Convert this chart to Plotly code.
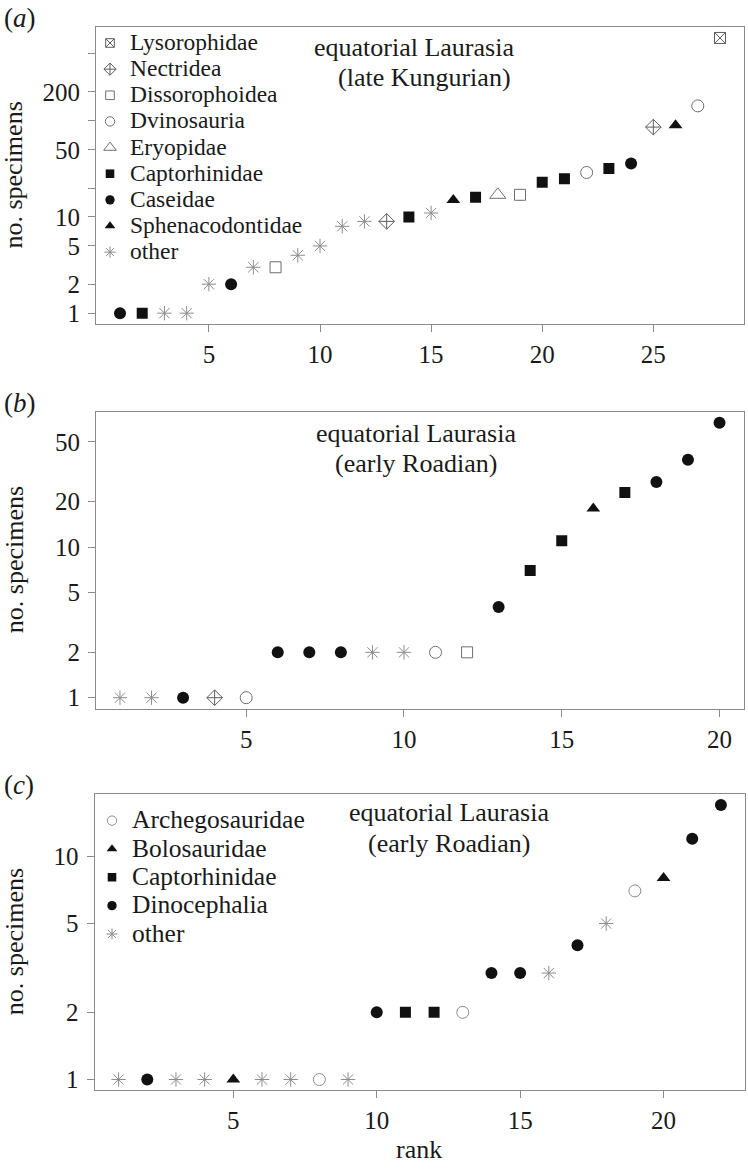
import math
import plotly.graph_objects as go

W, H = 748, 1170
FONT = "Liberation Serif"

# ---------------- data ----------------
# Panel (a): equatorial Laurasia, late Kungurian (rank = position in list)
A_COUNTS = [1, 1, 1, 1, 2, 2, 3, 3, 4, 5, 8, 9, 9, 10, 11, 15, 16, 17, 17,
            23, 25, 29, 32, 36, 86, 90, 143, 727]
A_GROUPS = ['Caseidae', 'Captorhinidae', 'other', 'other', 'other', 'Caseidae',
            'other', 'Dissorophoidea', 'other', 'other', 'other', 'other',
            'Nectridea', 'Captorhinidae', 'other', 'Sphenacodontidae',
            'Captorhinidae', 'Eryopidae', 'Dissorophoidea', 'Captorhinidae',
            'Captorhinidae', 'Dvinosauria', 'Captorhinidae', 'Caseidae',
            'Nectridea', 'Sphenacodontidae', 'Dvinosauria', 'Lysorophidae']
A_LEGEND = ['Lysorophidae', 'Nectridea', 'Dissorophoidea', 'Dvinosauria',
            'Eryopidae', 'Captorhinidae', 'Caseidae', 'Sphenacodontidae', 'other']
A_TITLE = ['equatorial Laurasia', '(late Kungurian)']
A_YTICKS = [1, 2, 5, 10, 20, 50, 100, 200, 500]
A_YTEXT = ['1', '2', '5', '10', '', '50', '', '200', '']
A_XTICKS = [5, 10, 15, 20, 25]

# Panel (b): equatorial Laurasia, early Roadian
B_COUNTS = [1, 1, 1, 1, 1, 2, 2, 2, 2, 2, 2, 2, 4, 7, 11, 18, 23, 27, 38, 67]
B_GROUPS = ['other', 'other', 'Caseidae', 'Nectridea', 'Dvinosauria',
            'Caseidae', 'Caseidae', 'Caseidae', 'other', 'other', 'Dvinosauria',
            'Dissorophoidea', 'Caseidae', 'Captorhinidae', 'Captorhinidae',
            'Sphenacodontidae', 'Captorhinidae', 'Caseidae', 'Caseidae', 'Caseidae']
B_TITLE = ['equatorial Laurasia', '(early Roadian)']
B_YTICKS = [1, 2, 5, 10, 20, 50]
B_YTEXT = ['1', '2', '5', '10', '20', '50']
B_XTICKS = [5, 10, 15, 20]

# Panel (c): equatorial Laurasia, early Roadian
C_COUNTS = [1, 1, 1, 1, 1, 1, 1, 1, 1, 2, 2, 2, 2, 3, 3, 3, 4, 5, 7, 8, 12, 17]
C_GROUPS = ['other', 'Dinocephalia', 'other', 'other', 'Bolosauridae', 'other',
            'other', 'Archegosauridae', 'other', 'Dinocephalia', 'Captorhinidae',
            'Captorhinidae', 'Archegosauridae', 'Dinocephalia', 'Dinocephalia',
            'other', 'Dinocephalia', 'other', 'Archegosauridae', 'Bolosauridae',
            'Dinocephalia', 'Dinocephalia']
C_LEGEND = ['Archegosauridae', 'Bolosauridae', 'Captorhinidae', 'Dinocephalia', 'other']
C_TITLE = ['equatorial Laurasia', '(early Roadian)']
C_YTICKS = [1, 2, 5, 10]
C_YTEXT = ['1', '2', '5', '10']
C_XTICKS = [5, 10, 15, 20]

PANEL_LABELS = ['a', 'b', 'c']
Y_TITLE = 'no. specimens'
X_TITLE = 'rank'

# ---------------- styles ----------------
BLACK = '#111111'
GREY = '#8c8c8c'
DGREY = '#5e5e5e'
MGREY = '#6e6e6e'
STYLE = {
    'Lysorophidae': ('square-x-open', DGREY, 11),
    'Nectridea': ('diamond-cross-open', DGREY, 12),
    'Dissorophoidea': ('square-open', MGREY, 11),
    'Dvinosauria': ('circle-open', MGREY, 12),
    'Eryopidae': ('triangle-up-open', MGREY, 14),
    'Captorhinidae': ('square', BLACK, 11),
    'Caseidae': ('circle', BLACK, 12),
    'Sphenacodontidae': ('triangle-up', BLACK, 12),
    'Archegosauridae': ('circle-open', GREY, 12),
    'Bolosauridae': ('triangle-up', BLACK, 12),
    'Dinocephalia': ('circle', BLACK, 12),
    'other': ('asterisk-open', GREY, 12),
}
LEG_SIZE_SCALE = 0.78
AXCOL = '#8a8a8a'
TXT = '#1a1a1a'


def px(x):
    return x / W


def py(y):
    return 1 - y / H


def marker(g, scale=1.0):
    sym, col, size = STYLE[g]
    m = dict(symbol=sym, color=col, size=size * scale)
    if sym.endswith('-open'):
        m['line'] = dict(width=1, color=col)
    else:
        m['line'] = dict(width=0)
    return m


panels = [
    dict(counts=A_COUNTS, groups=A_GROUPS, legend_order=A_LEGEND, legend='legend',
         leg_text=23.5, title=A_TITLE, yt=A_YTICKS, ytt=A_YTEXT, xt=A_XTICKS,
         box=(96, 27, 744, 325), tpos=[(414, 48), (424, 78)], lab_y=18),
    dict(counts=B_COUNTS, groups=B_GROUPS, legend_order=None, legend=None,
         leg_text=None, title=B_TITLE, yt=B_YTICKS, ytt=B_YTEXT, xt=B_XTICKS,
         box=(96, 412.7, 743.5, 710.5), tpos=[(416, 435), (416, 465)], lab_y=404),
    dict(counts=C_COUNTS, groups=C_GROUPS, legend_order=C_LEGEND, legend='legend2',
         leg_text=25.5, title=C_TITLE, yt=C_YTICKS, ytt=C_YTEXT, xt=C_XTICKS,
         box=(94.5, 796, 745, 1093.3), tpos=[(449, 815), (449, 846)], lab_y=787),
]

fig = go.Figure()
layout = dict(width=W, height=H, margin=dict(l=0, r=0, t=0, b=0),
              paper_bgcolor='white', plot_bgcolor='white',
              font=dict(family=FONT, color=TXT, size=25),
              showlegend=True)
annotations = []

common_axis = dict(showline=True, linecolor=AXCOL, linewidth=1, mirror=True,
                   ticks='outside', ticklen=7, tickwidth=1, tickcolor=AXCOL,
                   showgrid=False, zeroline=False,
                   tickfont=dict(family=FONT, size=25, color=TXT))

for i, p in enumerate(panels):
    k = '' if i == 0 else str(i + 1)
    xa, ya = 'x' + k, 'y' + k
    counts, groups = p['counts'], p['groups']
    n = len(counts)
    ranks = list(range(1, n + 1))
    for g in dict.fromkeys(groups):
        xs = [r for r, gg in zip(ranks, groups) if gg == g]
        ys = [c for c, gg in zip(counts, groups) if gg == g]
        fig.add_trace(go.Scatter(x=xs, y=ys, mode='markers', xaxis=xa, yaxis=ya,
                                 name=g, showlegend=False, marker=marker(g),
                                 hoverinfo='x+y+name'))
    if p['legend_order']:
        for g in p['legend_order']:
            label = ('<span style="font-family:\'Liberation Serif\',serif;'
                     'font-size:%spx">%s</span>' % (p['leg_text'], g))
            fig.add_trace(go.Scatter(x=[None], y=[None], mode='markers', xaxis=xa, yaxis=ya,
                                     name=label, legend=p['legend'], showlegend=True,
                                     marker=marker(g, LEG_SIZE_SCALE)))
    x0, y0, x1, y1 = p['box']
    xpad = 0.04 * (n - 1)
    lo, hi = math.log10(min(counts)), math.log10(max(counts))
    ypad = 0.04 * (hi - lo)
    layout['xaxis' + k] = dict(domain=[px(x0), px(x1)], range=[1 - xpad, n + xpad],
                               tickvals=p['xt'], anchor=ya, ticklabelstandoff=1,
                               **common_axis)
    layout['yaxis' + k] = dict(domain=[py(y1), py(y0)], type='log',
                               range=[lo - ypad, hi + ypad], tickvals=p['yt'],
                               ticktext=p['ytt'], anchor=xa, ticklabelstandoff=3,
                               **common_axis)
    # in-plot title lines
    for (tx, ty), line in zip(p['tpos'], p['title']):
        annotations.append(dict(text=line, x=px(tx), y=py(ty), xref='paper', yref='paper',
                                xanchor='center', yanchor='middle', showarrow=False,
                                font=dict(family=FONT, size=26, color=TXT)))
    # panel label
    annotations.append(dict(text='(<i>%s</i>)' % PANEL_LABELS[i], x=px(2), y=py(p['lab_y']),
                            xref='paper', yref='paper', xanchor='left', yanchor='middle',
                            showarrow=False, font=dict(family=FONT, size=27, color=TXT)))
    # y title
    annotations.append(dict(text=Y_TITLE, x=px(14), y=py((y0 + y1) / 2), xref='paper',
                            yref='paper', xanchor='center', yanchor='middle', textangle=-90,
                            showarrow=False, font=dict(family=FONT, size=26, color=TXT)))

# x title (bottom panel only)
annotations.append(dict(text=X_TITLE, x=px(419), y=py(1152), xref='paper', yref='paper',
                        xanchor='center', yanchor='middle', showarrow=False,
                        font=dict(family=FONT, size=26, color=TXT)))

legend_common = dict(bgcolor='rgba(0,0,0,0)', borderwidth=0, xanchor='left', yanchor='top',
                     xref='paper', yref='paper', tracegroupgap=0)
layout['legend'] = dict(x=px(90), y=py(25), font=dict(family=FONT, size=17.8, color=TXT),
                        **legend_common)
layout['legend2'] = dict(x=px(92), y=py(803.5), font=dict(family=FONT, size=19.5, color=TXT),
                         **legend_common)
layout['annotations'] = annotations

fig.update_layout(**layout)
fig.write_html("out.html", config={'displayModeBar': False},
               post_script="document.body.style.margin='0px';")
